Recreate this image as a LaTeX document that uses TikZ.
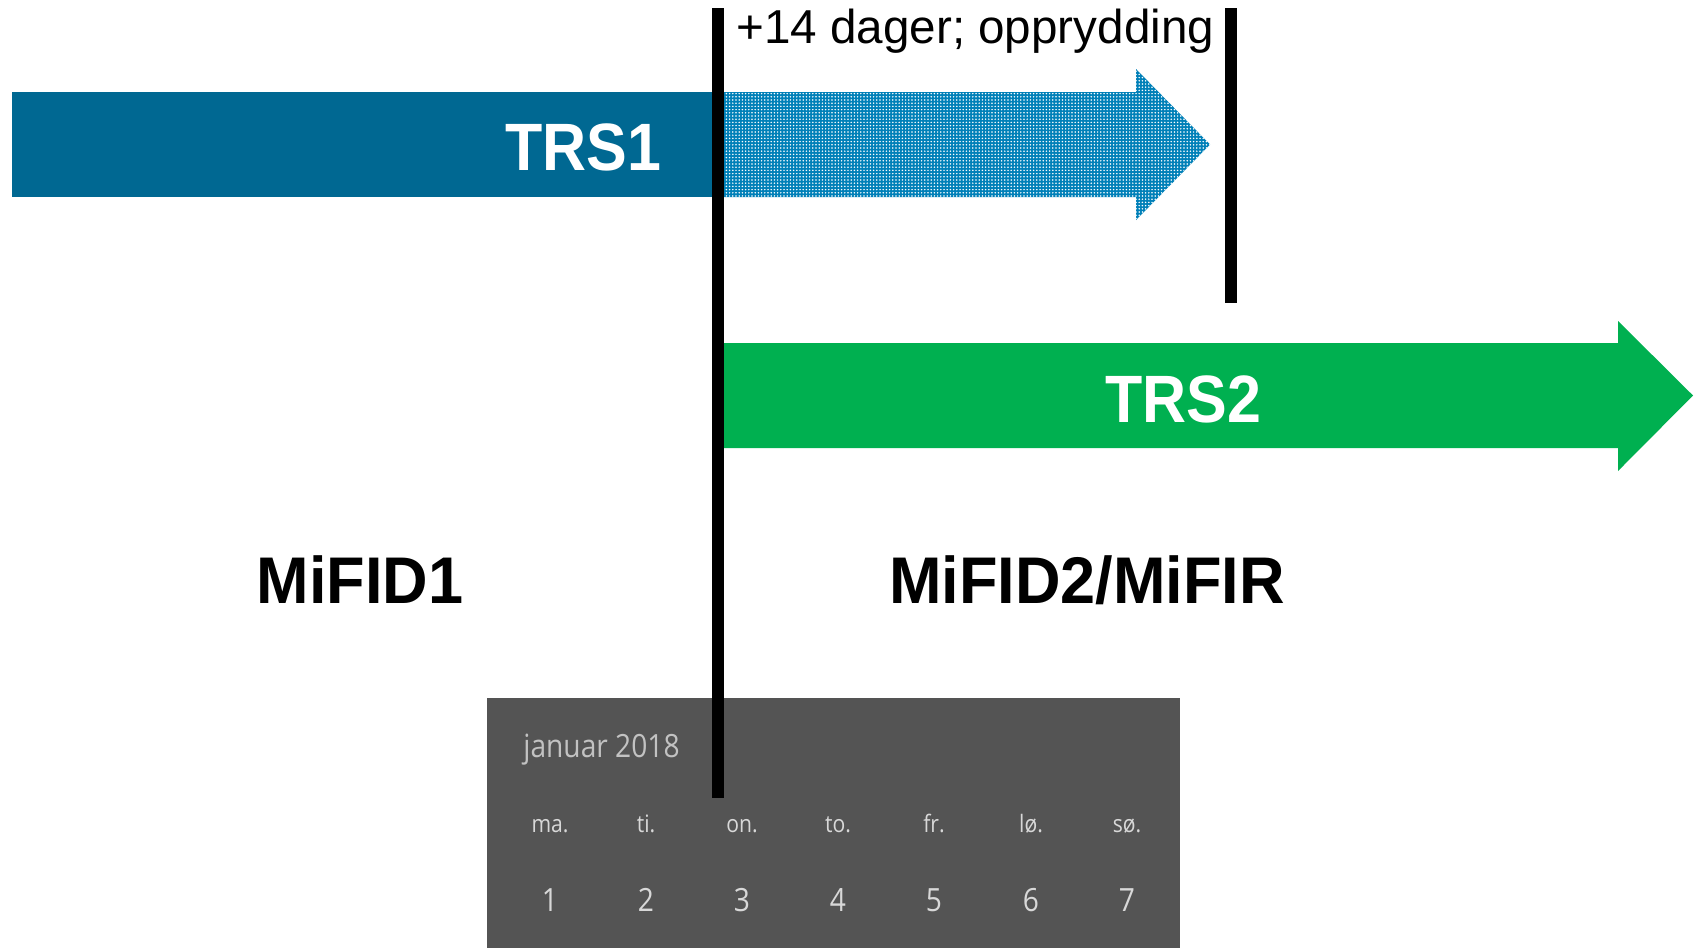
\documentclass[tikz,border=0pt]{standalone}
\usepackage{fontspec}
\setmainfont{Liberation Sans}
\newfontfamily\boldcond[FakeStretch=0.91]{Liberation Sans Bold}
\newfontfamily\boldmid[FakeStretch=0.955]{Liberation Sans Bold}
\newfontfamily\calfont[FakeStretch=0.88]{Open Sans}
\usetikzlibrary{patterns.meta}
\definecolor{trsblue}{HTML}{006892}
\definecolor{dotblue}{HTML}{0080B8}
\definecolor{trsgreen}{HTML}{00B050}
\definecolor{calgray}{HTML}{545454}
\definecolor{caltext}{HTML}{D8D8D8}
\begin{document}
\begin{tikzpicture}[x=0.5pt,y=-0.5pt,
  barlabel/.style={text=white,inner sep=0pt,anchor=base,font=\boldcond\fontsize{33.5}{40}\selectfont},
  regime/.style={text=black,inner sep=0pt,anchor=base,font=\boldmid\fontsize{33}{40}\selectfont},
  marker/.style={line width=6pt,black},
  dayname/.style={text=caltext,inner sep=0pt,anchor=base,font=\calfont\fontsize{12}{14}\selectfont},
  daynum/.style={text=caltext,inner sep=0pt,anchor=base,font=\calfont\fontsize{16}{18}\selectfont}]
\useasboundingbox (0,0) rectangle (1700,948);
\fill[white] (0,0) rectangle (1700,948);
% calendar
\fill[calgray] (487,698) rectangle (1180,948);
\node[text=caltext!90!black,inner sep=0pt,anchor=base west,font=\calfont\fontsize{16}{19}\selectfont] (month) at (523,757) {januar 2018};
\foreach \d/\n/\x in {ma./1/550, ti./2/646, on./3/742, to./4/838, fr./5/934, lø./6/1031, sø./7/1127}{
  \node[dayname] (day\n) at (\x,832) {\d};
  \node[daynum] (num\n) at (\x,911) {\n};
}
% TRS1 bar
\fill[trsblue] (12,92) rectangle (718,197);
\node[barlabel] (trs1) at (583,170) {TRS1};
% dotted arrow
\path[fill=dotblue] (724,92) -- (1136,92) -- (1136,69) -- (1210,144.5) -- (1136,220) -- (1136,197) -- (724,197) -- cycle;
\path[pattern={Dots[distance=1.6pt,radius=0.42pt]},pattern color=white] (724,92) -- (1136,92) -- (1136,69) -- (1210,144.5) -- (1136,220) -- (1136,197) -- (724,197) -- cycle;
% TRS2 arrow
\fill[trsgreen] (724,343) -- (1618,343) -- (1618,321) -- (1693,395.5) -- (1618,471) -- (1618,448) -- (724,448) -- cycle;
\node[barlabel] (trs2) at (1183,422) {TRS2};
% markers
\coordinate (l1top) at (718,8);
\coordinate (l1bot) at (718,798);
\coordinate (l2top) at (1231,8);
\coordinate (l2bot) at (1231,303);
\draw[marker] (l1top) -- (l1bot);
\draw[marker] (l2top) -- (l2bot);
\node[inner sep=0pt,anchor=base west,font=\fontsize{23.8}{28}\selectfont] (cleanup) at (736,43) {+14 dager; opprydding};
% regimes
\node[regime] (mifid1) at (360,603) {MiFID1};
\node[regime] (mifid2) at (1087,603) {MiFID2/MiFIR};
\end{tikzpicture}
\end{document}
